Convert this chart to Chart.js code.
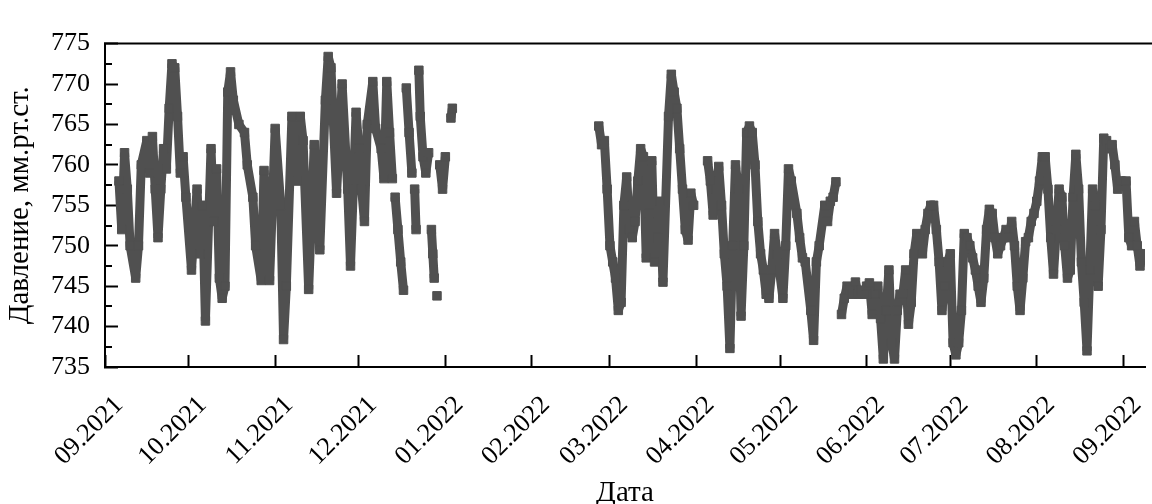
<!DOCTYPE html>
<html>
<head>
<meta charset="utf-8">
<script src="https://cdn.jsdelivr.net/npm/chart.js@4.4.1/dist/chart.umd.min.js"></script>
<style>
  html, body { margin: 0; padding: 0; background: #fff; }
  #wrap { width: 1152px; height: 504px; }
</style>
</head>
<body>
<div id="wrap"><canvas id="chart"></canvas></div>
<script>
// measurement dates (a null pressure breaks the line where readings are missing)
const dates = [
  '2021-09-06','2021-09-07','2021-09-08','2021-09-09','2021-09-10','2021-09-12','2021-09-13','2021-09-14',
  '2021-09-16','2021-09-17','2021-09-18','2021-09-19','2021-09-20','2021-09-21','2021-09-22','2021-09-23',
  '2021-09-24','2021-09-25','2021-09-26','2021-09-27','2021-09-28','2021-09-29','2021-09-30',
  '2021-10-02','2021-10-04','2021-10-05','2021-10-06','2021-10-07','2021-10-09','2021-10-10','2021-10-11',
  '2021-10-12','2021-10-13','2021-10-14','2021-10-15','2021-10-16','2021-10-17','2021-10-19','2021-10-21',
  '2021-10-22','2021-10-24','2021-10-25','2021-10-27','2021-10-28','2021-10-30',
  '2021-11-01','2021-11-03','2021-11-04','2021-11-05','2021-11-07','2021-11-09','2021-11-10','2021-11-11',
  '2021-11-13','2021-11-15','2021-11-17','2021-11-19','2021-11-20','2021-11-21','2021-11-23','2021-11-25',
  '2021-11-27','2021-11-28','2021-11-29','2021-11-30',
  '2021-12-01','2021-12-02','2021-12-03','2021-12-04','2021-12-06','2021-12-07','2021-12-09','2021-12-10',
  '2021-12-11','2021-12-12','2021-12-13','2021-12-13T12','2021-12-14','2021-12-15','2021-12-16','2021-12-17',
  '2021-12-17T12','2021-12-18','2021-12-19','2021-12-20','2021-12-20T12','2021-12-21','2021-12-21T12','2021-12-22',
  '2021-12-22T12','2021-12-23','2021-12-24','2021-12-25','2021-12-26','2021-12-26T12','2021-12-27','2021-12-27T12',
  '2021-12-28','2021-12-28T12','2021-12-29','2021-12-29T12','2021-12-30','2021-12-31',
  '2022-01-01','2022-01-02','2022-01-03','2022-01-03T12','2022-02-01',
  '2022-02-25','2022-02-26','2022-02-27','2022-02-28',
  '2022-03-01','2022-03-02','2022-03-03','2022-03-04','2022-03-05','2022-03-06','2022-03-07','2022-03-08',
  '2022-03-09','2022-03-10','2022-03-11','2022-03-12','2022-03-13','2022-03-14','2022-03-15','2022-03-16',
  '2022-03-17','2022-03-18','2022-03-19','2022-03-20','2022-03-22','2022-03-23','2022-03-24','2022-03-25',
  '2022-03-26','2022-03-27','2022-03-28','2022-03-29','2022-03-30','2022-03-31','2022-04-02',
  '2022-04-05','2022-04-06','2022-04-07','2022-04-08','2022-04-09','2022-04-10','2022-04-11','2022-04-12',
  '2022-04-13','2022-04-14','2022-04-15','2022-04-16','2022-04-17','2022-04-18','2022-04-19','2022-04-20',
  '2022-04-21','2022-04-22','2022-04-23','2022-04-24','2022-04-25','2022-04-26','2022-04-27','2022-04-28',
  '2022-04-29','2022-04-30',
  '2022-05-02','2022-05-03','2022-05-04','2022-05-05','2022-05-07','2022-05-08','2022-05-09','2022-05-10',
  '2022-05-12','2022-05-13','2022-05-14','2022-05-15','2022-05-17','2022-05-18','2022-05-19','2022-05-20',
  '2022-05-21','2022-05-22','2022-05-23','2022-05-24','2022-05-25','2022-05-26','2022-05-27','2022-05-28',
  '2022-05-29','2022-05-30','2022-05-31',
  '2022-06-01','2022-06-02','2022-06-03','2022-06-04','2022-06-05','2022-06-06','2022-06-07','2022-06-08',
  '2022-06-09','2022-06-10','2022-06-11','2022-06-12','2022-06-13','2022-06-14','2022-06-15','2022-06-16',
  '2022-06-17','2022-06-18','2022-06-19','2022-06-20','2022-06-21','2022-06-22','2022-06-23','2022-06-24',
  '2022-06-25','2022-06-26','2022-06-27','2022-06-28','2022-06-29','2022-06-30',
  '2022-07-01','2022-07-02','2022-07-03','2022-07-04','2022-07-05','2022-07-06','2022-07-07','2022-07-08',
  '2022-07-09','2022-07-10','2022-07-11','2022-07-12','2022-07-13','2022-07-14','2022-07-15','2022-07-16',
  '2022-07-17','2022-07-18','2022-07-19','2022-07-20','2022-07-21','2022-07-22','2022-07-23','2022-07-24',
  '2022-07-25','2022-07-26','2022-07-27','2022-07-28','2022-07-29','2022-07-30','2022-07-31',
  '2022-08-01','2022-08-02','2022-08-03','2022-08-04','2022-08-05','2022-08-06','2022-08-07','2022-08-08',
  '2022-08-09','2022-08-10','2022-08-11','2022-08-12','2022-08-13','2022-08-14','2022-08-15','2022-08-16',
  '2022-08-17','2022-08-18','2022-08-19','2022-08-20','2022-08-21','2022-08-22','2022-08-23','2022-08-24',
  '2022-08-25','2022-08-26','2022-08-27','2022-08-28','2022-08-29','2022-08-30','2022-08-31',
  '2022-09-02','2022-09-03','2022-09-04','2022-09-05','2022-09-06','2022-09-07','2022-09-08'
];

// pressure, mm Hg
const pressure = [
  758, 752, 761.5, 757, 750, 746, 750, 760,
  763, 759, 763.5, 757, 751, 757, 762, 759.5,
  767, 772.5, 772, 766, 759, 761, 756,
  747, 757, 749, 755, 740.7, 762, 753, 759.5,
  746, 743.5, 745, 769, 771.5, 768, 765, 764,
  760, 756, 750, 745.7, 759.3, 745.7,
  764.5, 755, 738.4, 745, 766, 758, 766, 763,
  744.6, 762.5, 749.5, 768, 773.4, 772, 756.5, 770,
  757, 747.5, 757, 766.5,
  762, 757, 753, 765, 770.3, 764.5, 762, 758.3,
  770.3, 764, 758.3, null, 756, 752, 748, 744.5,
  null, 769.5, 764, 759, null, 757, 752, null,
  771.7, 766, 761, 759, 761.5, null, 752, 749,
  746, null, 743.8, null, 760, 757,
  761, null, 765.8, 767, null,
  764.8, 762.5, 763, 757,
  750, 748, 746, 742, 743, 755, 758.5, 752,
  751, 753, 758, 762, 761, 748.5, 754, 760.5,
  748, 751, 755.5, 745.5, 766, 771.2, 769, 767,
  762, 757, 752, 750.7, 756.5, 755, null,
  760.5, 758, 753.8, 757, 759.8, 755, 749, 745,
  737.3, 750, 760, 757, 741.3, 750, 764, 764.8,
  764, 760, 753, 749, 747, 744, 743.5, 747,
  751.5, 749,
  743.5, 750, 759.5, 758, 754, 751, 748.5, 748,
  742, 738.3, 748, 750, 755, 753, 755.5, 756,
  757.9, null, 741.5, 743.5, 745, 744.5, 744, 745.5,
  744, 744.5, 744,
  745, 745.4, 741.5, 744, 745, 741, 736, 742,
  747, 738, 736, 742, 744, 744, 747, 740.3,
  743, 749, 751.5, 751, 749, 752, 754, 755,
  755, 752, 748, 742, 745, 748,
  749, 738, 736.5, 738, 742, 751.5, 751, 750,
  748.5, 747, 745, 743, 746, 752, 754.5, 754,
  751, 749, 750, 751, 752, 751, 753, 750,
  745, 742, 746, 750.5, 751, 753, 754,
  755.5, 758, 761, 761, 757, 751, 746.5, 752,
  757, 756, 750, 746, 747, 756, 761.3, 757,
  748, 743, 737, 747, 757, 755, 745, 752,
  763.3, 763, 762, 762.5, 760, 757, 758,
  758, 751, 750, 753, 750, 747.5, 749
];

const monthTicks = [
  '2021-09-01','2021-10-01','2021-11-01','2021-12-01','2022-01-01','2022-02-01','2022-03-01',
  '2022-04-01','2022-05-01','2022-06-01','2022-07-01','2022-08-01','2022-09-01'
];
const tickLabels = [
  '09.2021','10.2021','11.2021','12.2021','01.2022','02.2022','03.2022',
  '04.2022','05.2022','06.2022','07.2022','08.2022','09.2022'
];

const START = Date.UTC(2021, 8, 1);
function dayOf(s) {
  const [datePart, hour] = s.split('T');
  const [y, m, d] = datePart.split('-').map(Number);
  return (Date.UTC(y, m - 1, d, hour ? Number(hour) : 0) - START) / 86400000;
}

const points = dates.map((s, i) => ({ x: dayOf(s), y: pressure[i] }));
const tickDays = monthTicks.map(dayOf);

const serif = '"Liberation Serif", "Times New Roman", serif';
const lineColor = '#505050';

// top frame line and the short unlabelled ticks between the y labels
const frameExtras = {
  id: 'frameExtras',
  afterDraw(chart) {
    const { ctx, chartArea } = chart;
    const yScale = chart.scales.y;
    ctx.save();
    ctx.strokeStyle = '#000';
    ctx.lineWidth = 2;
    ctx.beginPath();
    ctx.moveTo(chartArea.left - 1, chartArea.top);
    ctx.lineTo(chart.width, chartArea.top);
    ctx.stroke();
    for (let v = yScale.min + 2.5; v < yScale.max; v += 5) {
      const py = Math.round(yScale.getPixelForValue(v));
      ctx.beginPath();
      ctx.moveTo(chartArea.left, py);
      ctx.lineTo(chartArea.left + 7, py);
      ctx.stroke();
    }
    ctx.restore();
  }
};

new Chart(document.getElementById('chart'), {
  type: 'line',
  data: {
    datasets: [{
      data: points,
      borderColor: lineColor,
      backgroundColor: lineColor,
      borderWidth: 9,
      borderJoinStyle: 'bevel',
      tension: 0,
      spanGaps: false,
      pointStyle: 'rect',
      pointRadius: 6,
      pointBorderWidth: 1,
      pointBackgroundColor: lineColor,
      pointBorderColor: lineColor
    }]
  },
  options: {
    responsive: true,
    maintainAspectRatio: false,
    animation: false,
    devicePixelRatio: 1,
    layout: {
      padding: { left: 0, top: 22, right: -7, bottom: -7 }
    },
    plugins: {
      legend: { display: false },
      tooltip: { enabled: false }
    },
    scales: {
      x: {
        type: 'linear',
        min: 0,
        max: dayOf('2022-09-08T19'),
        afterBuildTicks: (axis) => {
          axis.ticks = tickDays.map(v => ({ value: v }));
        },
        afterFit: (axis) => {
          axis.height = 144;
          axis.paddingLeft = 0;
          axis.paddingRight = 0;
        },
        grid: {
          drawOnChartArea: false,
          tickLength: -12,
          tickWidth: 2,
          tickColor: '#000'
        },
        border: { display: true, color: '#000', width: 2 },
        ticks: {
          autoSkip: false,
          maxRotation: 45,
          minRotation: 45,
          padding: 35,
          labelOffset: 14,
          color: '#000',
          font: { family: serif, size: 26 },
          callback: (value, index) => tickLabels[index]
        },
        title: {
          display: true,
          text: 'Дата',
          color: '#000',
          font: { family: serif, size: 29 },
          padding: 0
        }
      },
      y: {
        min: 735,
        max: 775,
        afterFit: (axis) => {
          axis.width = 105;
        },
        grid: {
          drawOnChartArea: false,
          tickLength: -13,
          tickWidth: 2,
          tickColor: '#000'
        },
        border: { display: true, color: '#000', width: 2 },
        ticks: {
          stepSize: 5,
          padding: 28,
          color: '#000',
          font: { family: serif, size: 26 }
        },
        title: {
          display: true,
          text: 'Давление, мм.рт.ст.',
          color: '#000',
          font: { family: serif, size: 29 },
          padding: { top: 3, bottom: 10 }
        }
      }
    }
  },
  plugins: [frameExtras]
});
</script>
</body>
</html>
